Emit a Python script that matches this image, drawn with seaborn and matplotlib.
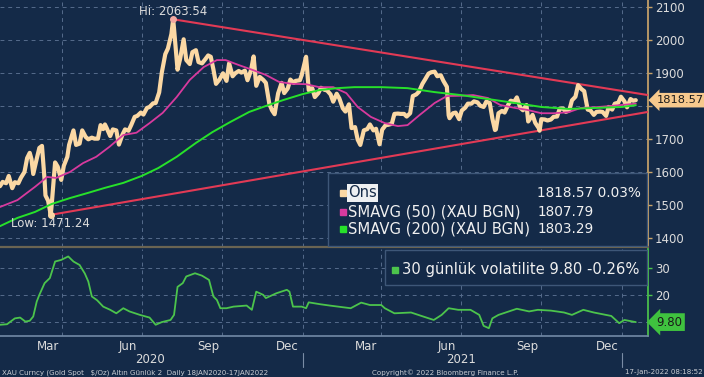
import matplotlib
matplotlib.use("Agg")
import pandas as pd
import matplotlib.pyplot as plt
import matplotlib.dates as mdates
import matplotlib.transforms as mtransforms
from matplotlib.patches import Rectangle
import seaborn as sns

# ---- data ----
price_dates = [
    "2020-01-21", "2020-01-24", "2020-01-28", "2020-01-31", "2020-02-04", "2020-02-07", "2020-02-11", "2020-02-14",
    "2020-02-18", "2020-02-21", "2020-02-24", "2020-02-26", "2020-02-28", "2020-03-03", "2020-03-06", "2020-03-09",
    "2020-03-12", "2020-03-13", "2020-03-16", "2020-03-19", "2020-03-20", "2020-03-24", "2020-03-27", "2020-03-31",
    "2020-04-03", "2020-04-07", "2020-04-09", "2020-04-14", "2020-04-17", "2020-04-21", "2020-04-24", "2020-04-28",
    "2020-05-01", "2020-05-05", "2020-05-08", "2020-05-12", "2020-05-15", "2020-05-18", "2020-05-20", "2020-05-22",
    "2020-05-26", "2020-05-29", "2020-06-02", "2020-06-05", "2020-06-09", "2020-06-12", "2020-06-16", "2020-06-19",
    "2020-06-23", "2020-06-26", "2020-06-30", "2020-07-03", "2020-07-07", "2020-07-10", "2020-07-14", "2020-07-17",
    "2020-07-21", "2020-07-24", "2020-07-28", "2020-07-31", "2020-08-04", "2020-08-06", "2020-08-07", "2020-08-11",
    "2020-08-14", "2020-08-18", "2020-08-21", "2020-08-25", "2020-08-28", "2020-09-01", "2020-09-04", "2020-09-08",
    "2020-09-11", "2020-09-15", "2020-09-18", "2020-09-21", "2020-09-24", "2020-09-28", "2020-10-02", "2020-10-06",
    "2020-10-09", "2020-10-13", "2020-10-16", "2020-10-20", "2020-10-23", "2020-10-27", "2020-10-30", "2020-11-03",
    "2020-11-06", "2020-11-09", "2020-11-13", "2020-11-17", "2020-11-20", "2020-11-24", "2020-11-27", "2020-11-30",
    "2020-12-04", "2020-12-08", "2020-12-11", "2020-12-15", "2020-12-18", "2020-12-22", "2020-12-24", "2020-12-29",
    "2020-12-31", "2021-01-05", "2021-01-06", "2021-01-08", "2021-01-12", "2021-01-15", "2021-01-19", "2021-01-22",
    "2021-01-26", "2021-01-29", "2021-02-02", "2021-02-05", "2021-02-09", "2021-02-12", "2021-02-16", "2021-02-19",
    "2021-02-23", "2021-02-26", "2021-03-02", "2021-03-05", "2021-03-08", "2021-03-12", "2021-03-16", "2021-03-19",
    "2021-03-23", "2021-03-26", "2021-03-30", "2021-04-02", "2021-04-06", "2021-04-09", "2021-04-13", "2021-04-16",
    "2021-04-20", "2021-04-23", "2021-04-27", "2021-04-30", "2021-05-04", "2021-05-07", "2021-05-11", "2021-05-14",
    "2021-05-18", "2021-05-21", "2021-05-25", "2021-05-28", "2021-06-01", "2021-06-04", "2021-06-08", "2021-06-11",
    "2021-06-15", "2021-06-17", "2021-06-18", "2021-06-22", "2021-06-25", "2021-06-29", "2021-07-02", "2021-07-06",
    "2021-07-09", "2021-07-13", "2021-07-16", "2021-07-20", "2021-07-23", "2021-07-27", "2021-07-30", "2021-08-03",
    "2021-08-06", "2021-08-09", "2021-08-10", "2021-08-13", "2021-08-17", "2021-08-20", "2021-08-24", "2021-08-27",
    "2021-08-31", "2021-09-03", "2021-09-07", "2021-09-10", "2021-09-14", "2021-09-16", "2021-09-21", "2021-09-24",
    "2021-09-28", "2021-09-29", "2021-10-01", "2021-10-05", "2021-10-08", "2021-10-12", "2021-10-15", "2021-10-19",
    "2021-10-22", "2021-10-26", "2021-10-29", "2021-11-02", "2021-11-05", "2021-11-09", "2021-11-12", "2021-11-16",
    "2021-11-19", "2021-11-23", "2021-11-26", "2021-11-30", "2021-12-03", "2021-12-07", "2021-12-10", "2021-12-14",
    "2021-12-17", "2021-12-21", "2021-12-24", "2021-12-28", "2021-12-31", "2022-01-04", "2022-01-07", "2022-01-11",
    "2022-01-14", "2022-01-17",
]
price_values = [
    1558, 1571, 1567, 1589, 1552, 1570, 1567, 1584,
    1601, 1643, 1659, 1640, 1595, 1641, 1674, 1680,
    1576, 1530, 1514, 1471.24, 1498, 1630, 1617, 1577,
    1620, 1647, 1683, 1727, 1683, 1687, 1727, 1707,
    1700, 1705, 1702, 1702, 1743, 1731, 1745, 1734,
    1710, 1730, 1727, 1684, 1714, 1730, 1726, 1743,
    1768, 1771, 1781, 1775, 1795, 1798, 1809, 1810,
    1842, 1902, 1958, 1975, 2019, 2063.54, 2035, 1911,
    1944, 2003, 1940, 1928, 1964, 1970, 1934, 1930,
    1940, 1954, 1950, 1912, 1868, 1881, 1900, 1877,
    1930, 1891, 1900, 1907, 1902, 1908, 1879, 1909,
    1951, 1862, 1889, 1880, 1871, 1807, 1788, 1776,
    1839, 1871, 1840, 1854, 1881, 1871, 1877, 1879,
    1895, 1950, 1918, 1849, 1855, 1828, 1840, 1856,
    1850, 1848, 1836, 1814, 1838, 1824, 1794, 1784,
    1806, 1734, 1737, 1699, 1683, 1727, 1731, 1745,
    1727, 1732, 1685, 1729, 1743, 1744, 1747, 1777,
    1778, 1777, 1777, 1769, 1779, 1831, 1836, 1844,
    1868, 1881, 1899, 1903, 1905, 1891, 1894, 1877,
    1859, 1773, 1764, 1779, 1781, 1761, 1787, 1796,
    1808, 1808, 1815, 1812, 1802, 1798, 1814, 1810,
    1763, 1728, 1730, 1779, 1786, 1781, 1804, 1817,
    1814, 1827, 1795, 1788, 1804, 1754, 1774, 1750,
    1734, 1726, 1761, 1760, 1757, 1760, 1768, 1769,
    1793, 1793, 1783, 1788, 1818, 1829, 1864, 1852,
    1846, 1790, 1788, 1774, 1783, 1784, 1783, 1771,
    1798, 1790, 1808, 1811, 1829, 1815, 1797, 1822,
    1817, 1818.57,
]

sma50_dates = [
    "2020-01-21", "2020-02-10", "2020-03-01", "2020-03-15", "2020-03-25", "2020-04-10", "2020-04-25", "2020-05-10",
    "2020-05-25", "2020-06-10", "2020-06-25", "2020-07-10", "2020-07-25", "2020-08-10", "2020-08-25", "2020-09-10",
    "2020-09-25", "2020-10-05", "2020-10-20", "2020-11-05", "2020-11-20", "2020-12-05", "2020-12-20", "2021-01-05",
    "2021-01-20", "2021-02-05", "2021-02-20", "2021-03-05", "2021-03-20", "2021-04-05", "2021-04-20", "2021-05-01",
    "2021-05-15", "2021-06-01", "2021-06-15", "2021-07-01", "2021-07-15", "2021-08-01", "2021-08-15", "2021-09-01",
    "2021-09-15", "2021-10-01", "2021-10-15", "2021-11-01", "2021-11-15", "2021-12-01", "2021-12-15", "2022-01-01",
    "2022-01-17",
]
sma50_values = [
    1495, 1516, 1556, 1586, 1583, 1601, 1628, 1647,
    1677, 1713, 1720, 1749, 1780, 1828, 1880, 1919,
    1940, 1940, 1925, 1910, 1895, 1874, 1868, 1867,
    1858, 1858, 1840, 1798, 1768, 1749, 1740, 1743,
    1774, 1810, 1831, 1832, 1834, 1825, 1804, 1795,
    1789, 1779, 1779, 1782, 1795, 1797, 1800, 1804,
    1807.79,
]

sma200_dates = [
    "2020-01-21", "2020-02-10", "2020-03-01", "2020-03-20", "2020-04-10", "2020-05-01", "2020-05-20", "2020-06-10",
    "2020-07-01", "2020-07-20", "2020-08-10", "2020-09-01", "2020-09-20", "2020-10-10", "2020-11-01", "2020-11-20",
    "2020-12-10", "2021-01-01", "2021-01-20", "2021-02-10", "2021-03-01", "2021-04-01", "2021-05-01", "2021-06-01",
    "2021-07-01", "2021-08-01", "2021-09-01", "2021-10-01", "2021-11-01", "2021-12-01", "2022-01-01", "2022-01-17",
]
sma200_values = [
    1437, 1462, 1480, 1504, 1522, 1538, 1553, 1568,
    1589, 1613, 1647, 1689, 1722, 1752, 1783, 1801,
    1819, 1837, 1849, 1855, 1858, 1858, 1855, 1843,
    1834, 1822, 1810, 1798, 1792, 1795, 1798, 1803.29,
]

vol_dates = [
    "2020-01-21", "2020-01-29", "2020-02-07", "2020-02-13", "2020-02-19", "2020-02-24", "2020-02-28", "2020-03-03",
    "2020-03-06", "2020-03-12", "2020-03-18", "2020-03-24", "2020-03-31", "2020-04-08", "2020-04-14", "2020-04-21",
    "2020-04-27", "2020-05-01", "2020-05-05", "2020-05-11", "2020-05-18", "2020-05-26", "2020-06-02", "2020-06-10",
    "2020-06-17", "2020-06-29", "2020-07-10", "2020-07-17", "2020-07-24", "2020-08-03", "2020-08-07", "2020-08-11",
    "2020-08-17", "2020-08-21", "2020-08-31", "2020-09-08", "2020-09-16", "2020-09-21", "2020-09-25", "2020-09-29",
    "2020-10-06", "2020-10-14", "2020-10-29", "2020-11-04", "2020-11-09", "2020-11-17", "2020-11-20", "2020-12-02",
    "2020-12-14", "2020-12-17", "2020-12-21", "2020-12-31", "2021-01-05", "2021-01-08", "2021-01-21", "2021-02-01",
    "2021-02-25", "2021-03-09", "2021-03-19", "2021-04-01", "2021-04-05", "2021-04-16", "2021-05-05", "2021-05-17",
    "2021-05-31", "2021-06-09", "2021-06-17", "2021-06-28", "2021-07-12", "2021-07-22", "2021-07-27", "2021-08-02",
    "2021-08-06", "2021-08-13", "2021-09-03", "2021-09-17", "2021-09-27", "2021-10-12", "2021-10-27", "2021-11-05",
    "2021-11-18", "2021-11-30", "2021-12-20", "2021-12-29", "2022-01-04", "2022-01-17",
]
vol_values = [
    8.8, 9.0, 11.2, 11.5, 10.0, 10.3, 11.9, 17.5,
    20.0, 24.4, 26.3, 32.5, 33.1, 34.4, 32.5, 31.2,
    28.0, 25.0, 19.4, 18.0, 15.6, 14.4, 13.1, 15.0,
    13.8, 12.5, 11.5, 8.8, 9.8, 10.6, 12.5, 23.0,
    24.4, 26.9, 28.1, 27.2, 25.6, 19.4, 18.1, 15.0,
    15.0, 15.6, 16.0, 14.4, 21.2, 20.0, 18.8, 20.6,
    21.9, 21.2, 15.6, 15.6, 15.0, 17.2, 16.5, 16.0,
    15.0, 17.1, 16.2, 16.2, 15.0, 13.1, 13.4, 12.1,
    10.6, 12.5, 15.0, 14.4, 14.4, 12.5, 8.4, 7.5,
    11.2, 12.5, 14.8, 13.8, 14.4, 14.1, 13.4, 12.5,
    14.4, 13.4, 12.1, 9.4, 10.6, 9.8,
]

upper_dates = ["2020-08-06", "2022-01-31"]
upper_values = [2063.54, 1834]
lower_dates = ["2020-03-19", "2022-01-31"]
lower_values = [1471.24, 1783]

month_labels = ["Mar", "Jun", "Sep", "Dec", "Mar", "Jun", "Sep", "Dec"]
month_label_dates = ["2020-03-16", "2020-06-15", "2020-09-15", "2020-12-15",
                     "2021-03-15", "2021-06-15", "2021-09-15", "2021-12-15"]
year_labels = ["2020", "2021"]
year_label_dates = ["2020-07-11", "2021-07-01"]
year_breaks = ["2021-01-01", "2022-01-01"]

legend_names = ["Ons", "SMAVG (50) (XAU BGN)", "SMAVG (200) (XAU BGN)"]
legend_values = ["1818.57 0.03%", "1807.79", "1803.29"]

# ---- style ----
BG = "#142a48"
GOLD = "#fbd8a4"
PINK = "#d83a9e"
LIME = "#27e12a"
RED = "#e23a55"
VOLG = "#4cc44c"
TXT = "#dcdcdc"
GRID = "#566c8c"

sns.set_theme(style="dark", rc={"axes.facecolor": BG, "figure.facecolor": BG,
                                "savefig.facecolor": BG})
plt.rcParams["font.family"] = ["DejaVu Sans"]

fig = plt.figure(figsize=(7.04, 3.77), dpi=100)
ax = fig.add_axes([0, 0.345, 0.9205, 0.655])
ax2 = fig.add_axes([0, 0.1088, 0.9205, 0.2308], sharex=ax)

price = pd.DataFrame({"date": pd.to_datetime(price_dates), "value": price_values})
sma50 = pd.DataFrame({"date": pd.to_datetime(sma50_dates), "value": sma50_values})
sma200 = pd.DataFrame({"date": pd.to_datetime(sma200_dates), "value": sma200_values})
vol = pd.DataFrame({"date": pd.to_datetime(vol_dates), "value": vol_values})
upper = pd.DataFrame({"date": pd.to_datetime(upper_dates), "value": upper_values})
lower = pd.DataFrame({"date": pd.to_datetime(lower_dates), "value": lower_values})

sns.lineplot(data=upper, x="date", y="value", ax=ax, color=RED, linewidth=1.5, zorder=3)
sns.lineplot(data=lower, x="date", y="value", ax=ax, color=RED, linewidth=1.5, zorder=3)
sns.lineplot(data=price, x="date", y="value", ax=ax, color=GOLD, linewidth=3.0, zorder=4)
sns.lineplot(data=sma50, x="date", y="value", ax=ax, color=PINK, linewidth=1.3, zorder=5)
sns.lineplot(data=sma200, x="date", y="value", ax=ax, color=LIME, linewidth=1.4, zorder=6)
sns.lineplot(data=vol, x="date", y="value", ax=ax2, color=VOLG, linewidth=1.3, zorder=4)

# hi / low markers
hi_d, hi_v = pd.Timestamp(upper_dates[0]), upper_values[0]
lo_d, lo_v = pd.Timestamp(lower_dates[0]), lower_values[0]
ax.plot([hi_d], [hi_v], "o", color="#f2a8a0", ms=4, zorder=7)
ax.plot([lo_d], [lo_v], "o", color=GOLD, ms=4, zorder=7)
ax.annotate(f"Hi: {hi_v:.2f}", (hi_d, hi_v), xytext=(0, 5.5), textcoords="offset points",
            ha="center", va="center", color=TXT, fontsize=8.5, zorder=8)
ax.annotate(f"Low: {lo_v:.2f}", (lo_d, lo_v), xytext=(0, -6.5), textcoords="offset points",
            ha="center", va="center", color=TXT, fontsize=8.5, zorder=8)

# axes limits / ticks
ax.set_xlim(pd.Timestamp("2020-01-21"), pd.Timestamp("2022-01-31"))
ax.set_ylim(1374, 2122)
ax2.set_ylim(4.6, 37.2)
for a in (ax, ax2):
    a.set_xlabel("")
    a.set_ylabel("")
    a.xaxis.set_major_locator(mdates.MonthLocator(bymonth=[1, 4, 7, 10]))
    a.xaxis.set_minor_locator(mdates.MonthLocator())
    a.grid(True, which="major", color=GRID, linestyle=(0, (4, 4)), linewidth=0.7)
    a.yaxis.tick_right()
    for s in ("left", "top"):
        a.spines[s].set_visible(False)

ax.set_yticks([1400, 1500, 1600, 1700, 1800, 1900, 2000, 2100])
ax.set_yticklabels(["1400", "1500", "1600", "1700", "", "1900", "2000", "2100"])
ax2.set_yticks([10, 20, 30])
ax2.set_yticklabels(["", "20", "30"])

ax.tick_params(axis="x", which="both", length=0, labelbottom=False)
ax.tick_params(axis="y", colors="#c9a46a", labelcolor=TXT, labelsize=8.5, length=3, width=1, pad=2)
ax2.tick_params(axis="y", colors=VOLG, labelcolor=TXT, labelsize=8.5, length=3, width=1, pad=2)
ax2.tick_params(axis="x", which="major", length=0, labelbottom=False)
ax2.tick_params(axis="x", which="minor", length=3, width=0.8, color="#6f86a3", direction="inout")

ax.spines["right"].set_color("#c9a46a")
ax.spines["bottom"].set_color("#6a6452")
ax.spines["bottom"].set_linewidth(1.6)
ax2.spines["right"].set_color(VOLG)
ax2.spines["bottom"].set_color("#6f86a3")

# month / year labels
xt = mtransforms.blended_transform_factory(ax2.transData, ax2.transAxes)
for d, lab in zip(month_label_dates, month_labels):
    ax2.text(pd.Timestamp(d), -0.045, lab, transform=xt, ha="center", va="top", color=TXT, fontsize=8.5)
for d, lab in zip(year_label_dates, year_labels):
    ax2.text(pd.Timestamp(d), -0.2, lab, transform=xt, ha="center", va="top", color=TXT, fontsize=8.5)
for d in year_breaks:
    ax2.plot([pd.Timestamp(d)] * 2, [-0.19, -0.36], transform=xt, color="#7a8ca5", lw=0.8, clip_on=False)

# legend box (top)
ax.add_patch(Rectangle((0.506, 0.003), 0.492, 0.297, transform=ax.transAxes,
                       facecolor=BG, edgecolor="#3e5778", lw=1, zorder=9))
rows_y = [0.219, 0.142, 0.073]
for y, name, val, col in zip(rows_y, legend_names, legend_values, [GOLD, PINK, LIME]):
    ax.plot([0.529], [y], "s", color=col, ms=4.5, transform=ax.transAxes, zorder=10)
    if name == "Ons":
        ax.text(0.537, y, name, transform=ax.transAxes, ha="left", va="center", fontsize=10.6,
                color=BG, zorder=10, bbox=dict(boxstyle="square,pad=0.08", fc="#eef0f2", ec="none"))
    else:
        ax.text(0.537, y, name, transform=ax.transAxes, ha="left", va="center", fontsize=10.6,
                color="#f0f0f0", zorder=10)
    ax.text(0.829, y, val, transform=ax.transAxes, ha="left", va="center", fontsize=9.8,
            color="#f0f0f0", zorder=10)

# legend box (bottom)
ax2.add_patch(Rectangle((0.594, 0.586), 0.404, 0.403, transform=ax2.transAxes,
                        facecolor=BG, edgecolor="#3e5778", lw=1, zorder=9))
ax2.plot([0.61], [0.759], "s", color=VOLG, ms=4.5, transform=ax2.transAxes, zorder=10)
ax2.text(0.62, 0.759, "30 günlük volatilite 9.80 -0.26%", transform=ax2.transAxes, ha="left",
         va="center", fontsize=10.6, color="#f0f0f0", zorder=10)

# last value tags
yt = mtransforms.blended_transform_factory(ax.transAxes, ax.transData)
ax.text(1.013, price_values[-1], f"{price_values[-1]:.2f}", transform=yt, ha="left", va="center",
        fontsize=8.2, color="#1a1a1a", zorder=11, clip_on=False,
        bbox=dict(boxstyle="larrow,pad=0.2", fc="#f7c98d", ec="none"))
yt2 = mtransforms.blended_transform_factory(ax2.transAxes, ax2.transData)
ax2.text(1.013, vol_values[-1], f"{vol_values[-1]:.2f}", transform=yt2, ha="left", va="center",
         fontsize=8.5, color="#1a1a1a", zorder=11, clip_on=False,
         bbox=dict(boxstyle="larrow,pad=0.2", fc="#3fc23f", ec="none"))

# footer
fig.text(0.003, 0.012, "XAU Curncy (Gold Spot   $/Oz) Altın Günlük 2  Daily 18JAN2020-17JAN2022",
         ha="left", va="center", fontsize=5.1, color="#c8ccd2")
fig.text(0.632, 0.012, "Copyright© 2022 Bloomberg Finance L.P.", ha="center", va="center",
         fontsize=5.1, color="#c8ccd2")
fig.text(0.998, 0.012, "17-Jan-2022 08:18:52", ha="right", va="center", fontsize=5.1, color="#c8ccd2")

fig.savefig("out.png", dpi=100)
